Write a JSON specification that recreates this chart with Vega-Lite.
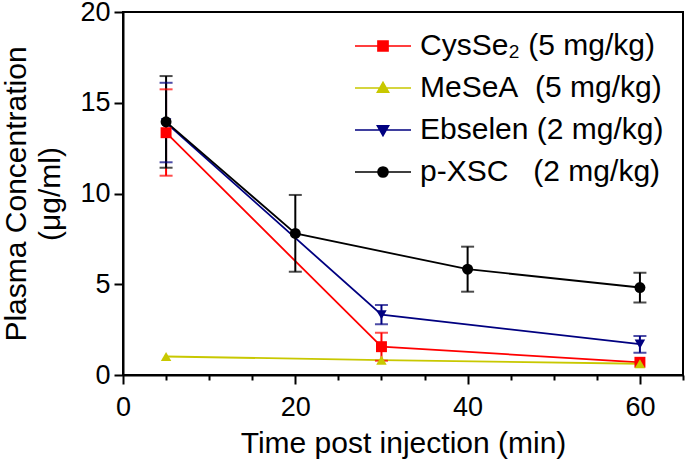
{
  "$schema": "https://vega.github.io/schema/vega-lite/v6.json",
  "width": 560,
  "height": 363,
  "autosize": "none",
  "padding": {"left": 123, "top": 12, "right": 2, "bottom": 87},
  "background": "white",
  "config": {
    "font": "Liberation Sans",
    "view": {"stroke": "black", "strokeWidth": 2},
    "axis": {
      "grid": false,
      "domainColor": "black",
      "domainWidth": 2,
      "tickColor": "black",
      "tickWidth": 2,
      "labelColor": "black",
      "labelFontSize": 27,
      "titleColor": "black",
      "titleFontSize": 30,
      "titleFontWeight": "normal"
    }
  },
  "data": {
    "values": [
      {"series": "CysSe2", "t": 5, "c": 13.35, "lo": 10.98, "hi": 15.74},
      {"series": "CysSe2", "t": 30, "c": 1.56, "lo": 0.79, "hi": 2.33},
      {"series": "CysSe2", "t": 60, "c": 0.7, "lo": null, "hi": null},
      {"series": "MeSeA", "t": 5, "c": 1.02, "lo": null, "hi": null},
      {"series": "MeSeA", "t": 30, "c": 0.82, "lo": null, "hi": null},
      {"series": "MeSeA", "t": 60, "c": 0.62, "lo": null, "hi": null},
      {"series": "Ebselen", "t": 5, "c": 13.9, "lo": 11.72, "hi": 16.1},
      {"series": "Ebselen", "t": 30, "c": 3.32, "lo": 2.79, "hi": 3.86},
      {"series": "Ebselen", "t": 60, "c": 1.7, "lo": 1.23, "hi": 2.15},
      {"series": "p-XSC", "t": 5, "c": 13.95, "lo": 11.42, "hi": 16.47},
      {"series": "p-XSC", "t": 20, "c": 7.8, "lo": 5.69, "hi": 9.92},
      {"series": "p-XSC", "t": 40, "c": 5.83, "lo": 4.59, "hi": 7.07},
      {"series": "p-XSC", "t": 60, "c": 4.82, "lo": 4.0, "hi": 5.64}
    ]
  },
  "encoding": {
    "x": {
      "field": "t",
      "type": "quantitative",
      "scale": {"domain": [0, 65], "nice": false, "zero": false},
      "axis": {
        "title": "Time post injection (min)",
        "values": [0, 5, 10, 15, 20, 25, 30, 35, 40, 45, 50, 55, 60, 65],
        "labelExpr": "datum.value % 20 === 0 ? datum.label : ''",
        "tickSize": {"condition": {"test": "datum.value % 20 === 0", "value": 9}, "value": 5},
        "labelPadding": 10,
        "titlePadding": 8,
        "labelFlush": false,
        "labelOverlap": false
      }
    },
    "y": {
      "field": "c",
      "type": "quantitative",
      "scale": {"domain": [0, 20], "nice": false},
      "axis": {
        "title": ["Plasma Concentration", "(μg/ml)"],
        "values": [0, 5, 10, 15, 20],
        "tickSize": 9,
        "labelPadding": 4,
        "titlePadding": 14,
        "titleLineHeight": 34
      }
    },
    "color": {
      "field": "series",
      "type": "nominal",
      "scale": {
        "domain": ["CysSe2", "MeSeA", "Ebselen", "p-XSC"],
        "range": ["#ff0000", "#c8c800", "#000080", "#000000"]
      },
      "legend": {
        "orient": "top-right",
        "offset": 19,
        "padding": 0,
        "title": null,
        "labelFontSize": 30,
        "labelColor": "black",
        "labelOffset": 22,
        "labelLimit": 0,
        "symbolSize": 784,
        "symbolOffset": 0,
        "symbolStrokeWidth": 1.6,
        "rowPadding": 12,
        "labelExpr": "datum.value === 'CysSe2' ? 'CysSe₂ (5 mg/kg)' : datum.value === 'MeSeA' ? 'MeSeA\u00a0\u00a0(5 mg/kg)' : datum.value === 'Ebselen' ? 'Ebselen (2 mg/kg)' : 'p-XSC\u00a0\u00a0\u00a0(2 mg/kg)'",
        "encode": {
          "symbols": {
            "update": {
              "shape": {"signal": "datum.value === 'CysSe2' ? 'M-2,0H2M-0.36,-0.36H0.36V0.36H-0.36Z' : datum.value === 'MeSeA' ? 'M-2,0H2M0,-0.4L0.4,0.3L-0.4,0.3Z' : datum.value === 'Ebselen' ? 'M-2,0H2M0,0.4L0.4,-0.3L-0.4,-0.3Z' : 'M-2,0H2M0.36,0A0.36,0.36 0 1,1 -0.36,0A0.36,0.36 0 1,1 0.36,0Z'"},
              "fill": {"signal": "scale('color', datum.value)"},
              "stroke": {"signal": "scale('color', datum.value)"},
              "strokeWidth": {"value": 1.6},
              "opacity": {"value": 1},
              "fillOpacity": {"value": 1}
            }
          }
        }
      }
    }
  },
  "layer": [
    {
      "mark": {"type": "line", "strokeWidth": 1.8}
    },
    {
      "transform": [{"filter": "datum.hi != null"}],
      "mark": {"type": "rule", "strokeWidth": 2},
      "encoding": {
        "y": {"field": "lo", "type": "quantitative"},
        "y2": {"field": "hi"}
      }
    },
    {
      "transform": [{"filter": "datum.hi != null"}],
      "mark": {"type": "tick", "orient": "horizontal", "size": 13, "thickness": 2},
      "encoding": {"y": {"field": "hi", "type": "quantitative"}}
    },
    {
      "transform": [{"filter": "datum.lo != null"}],
      "mark": {"type": "tick", "orient": "horizontal", "size": 13, "thickness": 2},
      "encoding": {"y": {"field": "lo", "type": "quantitative"}}
    },
    {
      "transform": [{"filter": "datum.series === 'CysSe2'"}],
      "mark": {"type": "point", "shape": "square", "filled": true, "opacity": 1, "size": 120}
    },
    {
      "transform": [{"filter": "datum.series === 'MeSeA'"}],
      "mark": {"type": "point", "shape": "triangle-up", "filled": true, "opacity": 1, "size": 110}
    },
    {
      "transform": [{"filter": "datum.series === 'Ebselen'"}],
      "mark": {"type": "point", "shape": "triangle-down", "filled": true, "opacity": 1, "size": 110}
    },
    {
      "transform": [{"filter": "datum.series === 'p-XSC'"}],
      "mark": {"type": "point", "shape": "circle", "filled": true, "opacity": 1, "size": 120}
    }
  ]
}
